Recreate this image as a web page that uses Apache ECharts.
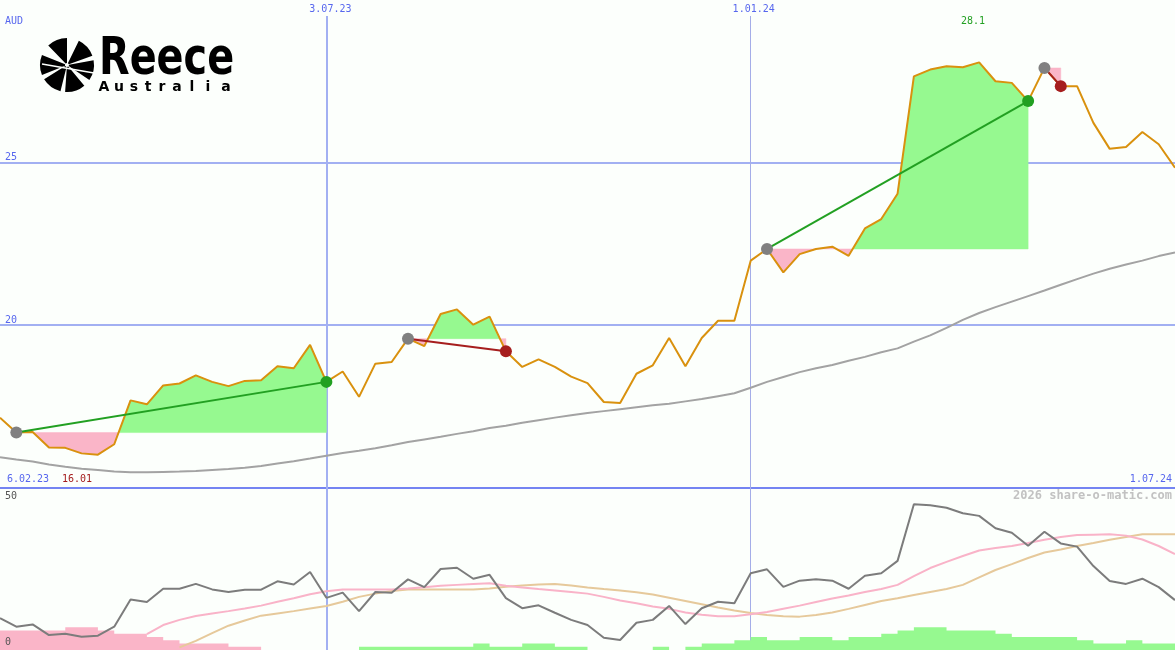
<!DOCTYPE html>
<html><head><meta charset="utf-8">
<script src="https://cdn.jsdelivr.net/npm/echarts@6/dist/echarts.min.js"></script>
<style>html,body{margin:0;padding:0;background:#fcfffc}#c{width:1175px;height:650px}</style>
</head><body><div id="c"></div><script>
// ---- data ----
const weeks = ['13.02.23','20.02.23','27.02.23','6.03.23','13.03.23','20.03.23','27.03.23','3.04.23','10.04.23','17.04.23','24.04.23','1.05.23','8.05.23','15.05.23','22.05.23','29.05.23','5.06.23','12.06.23','19.06.23','26.06.23','3.07.23','10.07.23','17.07.23','24.07.23','31.07.23','7.08.23','14.08.23','21.08.23','28.08.23','4.09.23','11.09.23','18.09.23','25.09.23','2.10.23','9.10.23','16.10.23','23.10.23','30.10.23','6.11.23','13.11.23','20.11.23','27.11.23','4.12.23','11.12.23','18.12.23','25.12.23','1.01.24','8.01.24','15.01.24','22.01.24','29.01.24','5.02.24','12.02.24','19.02.24','26.02.24','4.03.24','11.03.24','18.03.24','25.03.24','1.04.24','8.04.24','15.04.24','22.04.24','29.04.24','6.05.24','13.05.24','20.05.24','27.05.24','3.06.24','10.06.24','17.06.24','24.06.24','1.07.24'];
const price = [17.15,16.69,16.71,16.23,16.22,16.05,16.01,16.33,17.68,17.56,
  18.14,18.20,18.45,18.25,18.12,18.28,18.30,18.73,18.67,19.39,
  18.25,18.57,17.79,18.81,18.86,19.58,19.35,20.34,20.48,20.01,
  20.26,19.19,18.71,18.94,18.71,18.41,18.21,17.63,17.60,18.50,
  18.76,19.60,18.73,19.60,20.13,20.13,21.98,22.34,21.62,22.18,
  22.34,22.41,22.13,22.97,23.26,24.04,27.65,27.86,27.96,27.93,
  28.08,27.50,27.45,26.89,27.91,27.35,27.35,26.22,25.42,25.48,
  25.94,25.56,24.84];
const movingAvg = [15.93,15.86,15.80,15.71,15.64,15.58,15.54,15.49,15.47,15.47,
  15.48,15.49,15.51,15.54,15.57,15.61,15.66,15.74,15.81,15.89,
  15.98,16.06,16.13,16.21,16.30,16.40,16.48,16.56,16.65,16.73,
  16.83,16.90,16.99,17.07,17.15,17.22,17.29,17.35,17.41,17.47,
  17.53,17.58,17.65,17.72,17.81,17.90,18.07,18.25,18.40,18.55,
  18.67,18.77,18.90,19.02,19.16,19.28,19.49,19.68,19.91,20.16,
  20.37,20.55,20.72,20.89,21.06,21.24,21.41,21.58,21.73,21.86,
  21.98,22.12,22.23];
// trades: [entry week index, exit week index]
const trades = [[1,20],[25,31],[47,63],[64,65]];
// lower indicator panel
const oscDark = [9.8,7.2,7.9,4.6,5.0,4.1,4.4,7.2,15.6,14.8,
  18.9,18.9,20.4,18.7,17.9,18.6,18.6,21.2,20.2,24.1,
  16.1,17.7,12.0,17.9,17.7,21.8,19.4,25.0,25.4,22.0,
  23.2,16.0,12.9,13.8,11.5,9.3,7.7,3.8,3.1,8.4,
  9.3,13.6,8.0,12.9,14.9,14.4,23.7,24.9,19.5,21.4,
  21.8,21.4,18.9,22.9,23.7,27.5,45.0,44.7,43.9,42.2,
  41.4,37.6,36.2,32.2,36.5,32.9,31.9,25.9,21.3,20.4,
  22.0,19.4,15.4];
const oscPink = [null,null,null,null,null,null,null,null,null,4.9,
  7.7,9.3,10.5,11.3,12.0,12.8,13.7,14.9,16.0,17.2,
  18.1,18.7,18.7,18.7,18.7,19.0,19.4,19.8,20.1,20.4,
  20.6,19.8,19.3,18.8,18.4,17.9,17.4,16.4,15.3,14.4,
  13.4,12.7,11.6,10.9,10.4,10.4,11.0,11.7,12.7,13.7,
  14.8,15.9,16.8,17.9,18.8,20.1,22.8,25.3,27.2,29.0,
  30.7,31.5,32.1,33.0,34.0,34.9,35.5,35.6,35.7,35.3,
  34.1,32.1,29.6];
const oscTan = [null,null,null,null,null,null,null,null,null,null,
  null,0.8,2.8,5.2,7.5,9.1,10.6,11.3,12.0,12.8,
  13.6,14.9,16.4,17.4,18.2,18.7,18.7,18.7,18.7,18.7,
  19.0,19.5,19.9,20.2,20.4,19.9,19.3,18.8,18.4,17.8,
  17.1,16.1,15.1,14.1,13.1,12.2,11.4,10.8,10.4,10.3,
  10.8,11.6,12.7,13.9,15.1,16.0,17.0,17.9,18.8,20.1,
  22.4,24.7,26.5,28.4,30.1,31.0,32.1,33.0,34.0,34.9,
  35.7,35.7,35.7];
const barsPink = [6,6,6,6,7,7,6,5,5,4,
  3,2,2,2,1,1,0,0,0,0,
  0,0,0,0,0,0,0,0,0,0,
  0,0,0,0,0,0,0,0,0,0,
  0,0,0,0,0,0,0,0,0,0,
  0,0,0,0,0,0,0,0,0,0,
  0,0,0,0,0,0,0,0,0,0,
  0,0,0];
const barsGreen = [0,0,0,0,0,0,0,0,0,0,
  0,0,0,0,0,0,0,0,0,0,
  0,0,1,1,1,1,1,1,1,2,
  1,1,2,2,1,1,0,0,0,0,
  1,0,1,2,2,3,4,3,3,4,
  4,3,4,4,5,6,7,7,6,6,
  6,5,4,4,4,4,3,2,2,3,
  2,2,2];
const priceLabels = [20, 25];
const markerDates = ['3.07.23', '1.01.24'];
const edgeDates = ['6.02.23', '1.07.24'];
const extremeLabels = ['16.01', '28.1'];
const lowerLabels = ['50', '0'];

// ---- styles ----
const FONT = 'DejaVu Sans Mono';
const BLUE = '#5767ee';
const BG = '#fcfffc';
const GREEN_FILL = '#96f990';
const PINK_FILL = '#fab5c8';
const markerIdx = markerDates.map(d => weeks.indexOf(d));

function renderFills(params, api) {
  const a = api.value(0), b = api.value(1);
  const base = price[a];
  const pts = [];
  for (let i = a; i <= b; i++) pts.push(api.coord([i, price[i]]));
  const by = api.coord([a, base])[1];
  const out = [];
  let poly = [[pts[0][0], by], pts[0]];
  let runSign = 0;
  for (let i = a; i < b; i++) {
    const s0 = price[i] - base, s1 = price[i + 1] - base;
    if (runSign === 0) runSign = Math.sign(s0) || Math.sign(s1);
    if (s0 * s1 < 0) {
      const t = s0 / (s0 - s1);
      const P = pts[i - a], Q = pts[i + 1 - a];
      const X = [P[0] + (Q[0] - P[0]) * t, by];
      poly.push(X);
      out.push({p: poly, s: runSign});
      poly = [X];
      runSign = Math.sign(s1);
    }
    poly.push(pts[i + 1 - a]);
  }
  poly.push([pts[b - a][0], by]);
  out.push({p: poly, s: runSign});
  return {
    type: 'group',
    children: out.map(o => ({
      type: 'polygon', shape: {points: o.p},
      style: {fill: o.s >= 0 ? GREEN_FILL : PINK_FILL, stroke: o.s >= 0 ? GREEN_FILL : PINK_FILL, lineWidth: 0.5}
    }))
  };
}
function renderTrades(params, api) {
  const a = api.value(0), b = api.value(1);
  const A = api.coord([a, price[a]]), B = api.coord([b, price[b]]);
  const col = price[b] >= price[a] ? '#22a022' : '#a61e1e';
  return {
    type: 'group',
    children: [
      {type: 'line', shape: {x1: A[0], y1: A[1], x2: B[0], y2: B[1]}, style: {stroke: col, lineWidth: 2}},
      {type: 'circle', shape: {cx: A[0], cy: A[1], r: 6}, style: {fill: '#808080'}},
      {type: 'circle', shape: {cx: B[0], cy: B[1], r: 6}, style: {fill: col}}
    ]
  };
}

// logo pieces
const bladeCenters = [180, 248, 318, 12, 72, 126];
const logoCx = 67, logoCy = 65;
const logoGraphics = bladeCenters.map(c => ({
  type: 'sector',
  shape: {cx: logoCx, cy: logoCy, r: 27, r0: 2, startAngle: (c - 22) * Math.PI / 180, endAngle: (c + 22) * Math.PI / 180, clockwise: true},
  style: {fill: '#000'}
}));
logoGraphics.push({type: 'line', shape: {x1: 42, y1: 64, x2: 94, y2: 73}, style: {stroke: BG, lineWidth: 1.5}});
logoGraphics.push({type: 'text', x: 99, y: 61, scaleX: 0.78,
  style: {text: 'Reece', font: '900 51px "DejaVu Sans"', fill: '#000', textVerticalAlign: 'middle'}});
const ausLetters = 'Australia'.split('');
const ausX = [104, 119, 134, 148, 162, 177, 192, 208, 226];
ausLetters.forEach((ch, k) => logoGraphics.push({type: 'text', x: ausX[k], y: 87,
  style: {text: ch, font: 'bold 14px "DejaVu Sans"', fill: '#000', textAlign: 'center', textVerticalAlign: 'middle'}}));

function txt(text, x, y, color, align, extra) {
  return Object.assign({type: 'text', x: x, y: y, z: 100,
    style: {text: text, font: '10px "' + FONT + '"', fill: color, textAlign: align || 'left', textVerticalAlign: 'middle'}}, extra || {});
}

const chart = echarts.init(document.getElementById('c'));
const option = {
  animation: false,
  backgroundColor: BG,
  grid: [
    {left: 0, right: 0, top: -1.5, height: 489},
    {left: 0, right: 0, top: 488, height: 162},
    {left: 0, right: 0, top: 16, height: 634},
    {left: 0, right: 0, top: 16, height: 634}
  ],
  xAxis: [
    {gridIndex: 0, type: 'category', data: weeks, boundaryGap: false, show: false},
    {gridIndex: 1, type: 'category', data: weeks, boundaryGap: false, show: false},
    {gridIndex: 2, type: 'category', data: weeks, boundaryGap: false, position: 'top',
      axisLine: {show: false}, axisTick: {show: false},
      axisLabel: {interval: (i) => i === markerIdx[0], margin: 2, color: BLUE, fontFamily: FONT, fontSize: 10, padding: [0, 0, 0, 8]},
      splitLine: {show: true, interval: (i) => i === markerIdx[0], lineStyle: {color: '#a2b0f2', width: 2}}},
    {gridIndex: 3, type: 'category', data: weeks, boundaryGap: false, position: 'top',
      axisLine: {show: false}, axisTick: {show: false},
      axisLabel: {interval: (i) => i === markerIdx[1], margin: 2, color: BLUE, fontFamily: FONT, fontSize: 10, padding: [0, 0, 0, 6]},
      splitLine: {show: true, interval: (i) => i === markerIdx[1], lineStyle: {color: '#a4ade8', width: 1}}}
  ],
  yAxis: [
    {gridIndex: 0, type: 'value', min: 15, max: 30, interval: 5,
      axisLine: {show: false}, axisTick: {show: false},
      axisLabel: {inside: true, margin: 5, color: BLUE, fontFamily: FONT, fontSize: 10, verticalAlign: 'bottom',
        formatter: v => priceLabels.indexOf(v) >= 0 ? String(v) : ''},
      splitLine: {show: true, lineStyle: {color: ['#7484f2', '#a2b0f2', '#a2b0f2', 'rgba(0,0,0,0)'], width: 2}}},
    {gridIndex: 1, type: 'value', min: 0, max: 50, show: false},
    {gridIndex: 2, type: 'value', show: false},
    {gridIndex: 3, type: 'value', show: false}
  ],
  series: [
    {type: 'custom', xAxisIndex: 0, yAxisIndex: 0, z: 1, renderItem: renderFills,
      data: trades, encode: {x: [0, 1]}, silent: true},
    {type: 'line', xAxisIndex: 0, yAxisIndex: 0, z: 2, data: movingAvg, symbol: 'none',
      lineStyle: {color: '#a3a3a3', width: 2}},
    {type: 'line', xAxisIndex: 0, yAxisIndex: 0, z: 3, data: price, symbol: 'none',
      lineStyle: {color: '#d9910e', width: 2}},
    {type: 'custom', xAxisIndex: 0, yAxisIndex: 0, z: 4, renderItem: renderTrades,
      data: trades, encode: {x: [0, 1]}, silent: true},
    {type: 'line', xAxisIndex: 1, yAxisIndex: 1, z: 1, data: barsPink, step: 'end', symbol: 'none',
      lineStyle: {width: 0}, areaStyle: {color: PINK_FILL, opacity: 1}},
    {type: 'line', xAxisIndex: 1, yAxisIndex: 1, z: 1, data: barsGreen, step: 'end', symbol: 'none',
      lineStyle: {width: 0}, areaStyle: {color: GREEN_FILL, opacity: 1}},
    {type: 'line', xAxisIndex: 1, yAxisIndex: 1, z: 2, data: oscTan, symbol: 'none',
      lineStyle: {color: '#e6c99b', width: 2}},
    {type: 'line', xAxisIndex: 1, yAxisIndex: 1, z: 2, data: oscPink, symbol: 'none',
      lineStyle: {color: '#f9b3c8', width: 2}},
    {type: 'line', xAxisIndex: 1, yAxisIndex: 1, z: 3, data: oscDark, symbol: 'none',
      lineStyle: {color: '#7c7c7c', width: 2}}
  ],
  graphic: [
    ...logoGraphics,
    txt('AUD', 5, 21, BLUE),
    txt(edgeDates[0], 7, 479, BLUE),
    txt(extremeLabels[0], 62, 479, '#a41c1c'),
    txt(edgeDates[1], 1172, 479, BLUE, 'right'),
    txt(extremeLabels[1], 973, 21, '#22a022', 'center'),
    txt(lowerLabels[0], 5, 496, '#555555'),
    txt(lowerLabels[1], 5, 642, '#555555'),
    {type: 'text', x: 1172, y: 496, z: 100,
      style: {text: '2026 share-o-matic.com', font: 'bold 12px "' + FONT + '"', fill: '#c2c2c2', textAlign: 'right', textVerticalAlign: 'middle'}}
  ]
};
chart.setOption(option);
</script></body></html>
